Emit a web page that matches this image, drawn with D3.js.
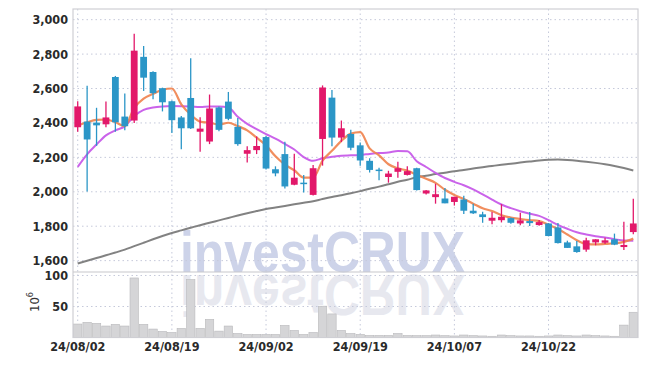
<!DOCTYPE html>
<html>
<head>
<meta charset="utf-8">
<script src="https://cdn.jsdelivr.net/npm/d3@7"></script>
<style>
    body { margin: 0; background: #fff; }
    .tick-label { font-family: "DejaVu Sans Condensed", "DejaVu Sans", sans-serif; font-size: 12.5px; font-weight: bold; fill: #2a2a2a; }
</style>
</head>
<body>
<div id="chart"></div>
<script>
// Trading days (yy/mm/dd)
var dates = ["24/08/02","24/08/05","24/08/06","24/08/07","24/08/08","24/08/09","24/08/12","24/08/13","24/08/14","24/08/16",
    "24/08/19","24/08/20","24/08/21","24/08/22","24/08/23","24/08/26","24/08/27","24/08/28","24/08/29","24/08/30",
    "24/09/02","24/09/03","24/09/04","24/09/05","24/09/06","24/09/09","24/09/10","24/09/11","24/09/12","24/09/13",
    "24/09/19","24/09/20","24/09/23","24/09/24","24/09/25","24/09/26","24/09/27","24/09/30","24/10/02","24/10/04",
    "24/10/07","24/10/08","24/10/10","24/10/11","24/10/14","24/10/15","24/10/16","24/10/17","24/10/18","24/10/21",
    "24/10/22","24/10/23","24/10/24","24/10/25","24/10/28","24/10/29","24/10/30","24/10/31","24/11/01","24/11/04"];

var opens  = [2375,2408,2402,2392,2667,2437,2414,2784,2696,2602, 2526,2432,2545,2349,2292,2490,2524,2377,2221,2242,
              2318,2131,2219,2041,2053,1982,2307,2547,2315,2336, 2270,2180,2129,2086,2116,2098,2137,1990,1969,1961,
              1941,1955,1890,1869,1832,1835,1847,1816,1830,1807, 1816,1793,1706,1683,1664,1706,1704,1724,1679,1766];
var highs  = [2526,2616,2488,2524,2673,2571,2918,2847,2700,2605, 2530,2440,2776,2433,2565,2495,2580,2428,2264,2322,
              2324,2148,2291,2221,2098,2156,2618,2592,2414,2360, 2287,2195,2140,2122,2175,2149,2139,2010,2047,2022,
              1971,1977,1931,1884,1882,1928,1850,1878,1882,1836, 1818,1818,1716,1714,1733,1724,1733,1757,1826,1959];
var lows   = [2349,2002,2267,2375,2349,2357,2400,2586,2537,2467, 2341,2247,2365,2232,2277,2352,2416,2268,2170,2219,
              2129,2090,2019,2038,1996,1978,2152,2264,2289,2242, 2152,2112,2067,2053,2082,2094,2008,1984,1931,1933,
              1920,1871,1871,1820,1812,1822,1815,1805,1801,1803, 1741,1699,1674,1646,1652,1689,1697,1690,1662,1753];
var closes = [2496,2304,2386,2432,2404,2381,2820,2663,2573,2520, 2416,2369,2369,2367,2484,2360,2424,2277,2242,2266,
              2135,2107,2031,2082,2047,2137,2606,2315,2369,2256, 2182,2127,2124,2106,2137,2120,2010,2008,1986,1933,
              1971,1890,1875,1853,1849,1855,1820,1834,1818,1824, 1743,1702,1674,1650,1718,1724,1718,1693,1691,1816];

// Volume in millions
var volumes = [21.7,24.4,22.8,18.5,21.2,18.5,96,21.2,13.6,9.8, 8.1,14.7,93.4,14.7,29.3,10.3,18.5,6.5,4.9,4.9,
               4.9,4.9,19.5,11.4,4.9,8.1,50.5,38,11.4,6.5, 4.9,3.3,3.3,3.3,6.5,3.3,3,3,4,3,
               2.5,4,3,2.5,2,4,3,2.5,2.5,2, 2.5,4,3,2.5,4,3,2.5,2,20,40.7];

// Moving averages
var maShort = [2384,2404,2418,2420,2404,2382,2487,2541,2569,2593, 2600,2508,2448,2408,2401,2391,2401,2382,2357,2315,
               2270,2206,2158,2125,2082,2082,2181,2238,2296,2338, 2347,2252,2212,2160,2136,2123,2099,2076,2052,2012,
               1982,1958,1931,1904,1888,1864,1850,1842,1835,1830, 1808,1784,1752,1719,1697,1694,1697,1701,1709,1728];
var maMid   = [2145,2218,2275,2328,2357,2380,2440,2476,2490,2496, 2498,2497,2495,2492,2496,2496,2490,2436,2395,2364,
               2335,2309,2278,2246,2202,2180,2195,2203,2210,2212, 2214,2220,2225,2228,2237,2235,2178,2144,2110,2080,
               2058,2038,2014,1985,1955,1926,1905,1887,1872,1860, 1835,1808,1785,1765,1752,1742,1734,1725,1717,1716];
var maLong  = [1583,1599,1615,1631,1647,1664,1684,1704,1724,1743, 1761,1776,1791,1806,1820,1834,1848,1862,1875,1888,
               1900,1909,1918,1927,1936,1945,1958,1970,1980,1991, 2004,2018,2030,2044,2058,2070,2085,2093,2103,2111,
               2120,2127,2135,2143,2150,2157,2163,2170,2176,2182, 2186,2187,2185,2181,2175,2168,2160,2150,2138,2124];

var priceTicks = [1600,1800,2000,2200,2400,2600,2800,3000];
var volumeTicks = [50,100];
var dateTicks = ["24/08/02","24/08/19","24/09/02","24/09/19","24/10/07","24/10/22"];

var width = 647, height = 366;
var plotLeft = 73, plotRight = 638, plotTop = 9, plotSplit = 272, plotBottom = 337.5;
var upColor = "#e2186a", downColor = "#2b96c7", gridColor = "#c5c9da";

var svg = d3.select("#chart").append("svg")
    .attr("width", width)
    .attr("height", height);

var x = d3.scaleBand().domain(d3.range(dates.length)).range([plotLeft, plotRight]).padding(0);
var bw = x.bandwidth();
var cx = i => x(i) + bw / 2;

var y = d3.scaleLinear().domain([1534, 3062]).range([plotSplit, plotTop]);
var yv = d3.scaleLinear().domain([0, 105.6]).range([plotBottom, plotSplit]);

// watermark and its reflection below the price panel
var wm = svg.append("g")
    .style("font-family", "Liberation Sans, Arial, sans-serif")
    .style("font-weight", "bold").style("font-size", "57px");
wm.append("text")
    .attr("x", 180).attr("y", plotSplit - 0.5)
    .attr("textLength", 285).attr("lengthAdjust", "spacingAndGlyphs")
    .style("fill", "#cdd3e9")
    .text("investCRUX");
wm.append("text")
    .attr("x", 180).attr("y", plotSplit - 0.5)
    .attr("transform", "translate(0," + (2 * plotSplit + 2) + ") scale(1,-1)")
    .attr("textLength", 285).attr("lengthAdjust", "spacingAndGlyphs")
    .style("fill", "#e7e8ef")
    .text("investCRUX");

// grid lines
var grid = svg.append("g").attr("stroke", gridColor).attr("stroke-dasharray", "1.5,3").attr("stroke-width", 1);
grid.selectAll(".hp").data(priceTicks).enter().append("line")
    .attr("x1", plotLeft).attr("x2", plotRight)
    .attr("y1", d => y(d)).attr("y2", d => y(d));
grid.selectAll(".hv").data(volumeTicks).enter().append("line")
    .attr("x1", plotLeft).attr("x2", plotRight)
    .attr("y1", d => yv(d)).attr("y2", d => yv(d));
grid.selectAll(".vx").data(dateTicks).enter().append("line")
    .attr("x1", d => cx(dates.indexOf(d))).attr("x2", d => cx(dates.indexOf(d)))
    .attr("y1", plotTop).attr("y2", plotBottom);

// volume bars
svg.selectAll(".vol").data(volumes).enter().append("rect")
    .attr("x", (d, i) => x(i) + 0.5)
    .attr("width", bw - 1)
    .attr("y", d => yv(d))
    .attr("height", d => plotBottom - yv(d))
    .style("fill", "#d5d5d7")
    .style("stroke", "#b9b9bc")
    .style("stroke-width", 0.6);

// moving average lines
function drawLine(values, color, w, op) {
    svg.append("path")
        .datum(values)
        .attr("d", d3.line().x((d, i) => cx(i)).y(d => y(d)).curve(d3.curveMonotoneX))
        .style("fill", "none")
        .style("stroke", color)
        .style("stroke-width", w)
        .style("stroke-opacity", op);
}
drawLine(maLong, "#7b7b7b", 2, 0.95);
drawLine(maMid, "#c75be9", 2, 0.95);
drawLine(maShort, "#f0824c", 2.2, 0.9);

// candles
var candles = svg.selectAll(".candle").data(dates).enter().append("g");
candles.append("line")
    .attr("x1", (d, i) => cx(i)).attr("x2", (d, i) => cx(i))
    .attr("y1", (d, i) => y(highs[i])).attr("y2", (d, i) => y(lows[i]))
    .style("stroke", (d, i) => closes[i] >= opens[i] ? upColor : downColor)
    .style("stroke-width", 1.3);
candles.append("rect")
    .attr("x", (d, i) => cx(i) - 3.4)
    .attr("width", 6.8)
    .attr("y", (d, i) => y(Math.max(opens[i], closes[i])))
    .attr("height", (d, i) => Math.max(1.5, Math.abs(y(opens[i]) - y(closes[i]))))
    .style("fill", (d, i) => closes[i] >= opens[i] ? upColor : downColor);

// frame
svg.append("rect")
    .attr("x", plotLeft).attr("y", plotTop)
    .attr("width", plotRight - plotLeft).attr("height", plotBottom - plotTop)
    .style("fill", "none").style("stroke", "#cfcfd4").style("stroke-width", 1.2);
svg.append("line")
    .attr("x1", plotLeft).attr("x2", plotRight).attr("y1", plotSplit).attr("y2", plotSplit)
    .style("stroke", "#c8c8cc").style("stroke-width", 1.2);

// axes
var yAxis = svg.append("g").attr("transform", "translate(" + plotLeft + ",0)")
    .call(d3.axisLeft(y).tickValues(priceTicks).tickSize(0).tickPadding(5).tickFormat(d3.format(",")));
var vAxis = svg.append("g").attr("transform", "translate(" + plotLeft + ",0)")
    .call(d3.axisLeft(yv).tickValues(volumeTicks).tickSize(0).tickPadding(5));
var xAxis = svg.append("g").attr("transform", "translate(0," + plotBottom + ")")
    .call(d3.axisBottom(x).tickValues(dateTicks.map(d => dates.indexOf(d))).tickSize(0).tickPadding(5)
        .tickFormat(i => dates[i]));
[yAxis, vAxis, xAxis].forEach(function (g) {
    g.select(".domain").remove();
    g.selectAll("text").attr("class", "tick-label").attr("font-size", null).attr("font-family", null);
});

// volume unit label
svg.append("text")
    .attr("transform", "translate(39,302) rotate(-90)")
    .attr("text-anchor", "middle")
    .style("font-family", "DejaVu Sans Condensed, DejaVu Sans, sans-serif")
    .style("font-size", "13px").style("fill", "#333")
    .html('10<tspan dy="-6" font-size="9px">6</tspan>');
</script>
</body>
</html>
